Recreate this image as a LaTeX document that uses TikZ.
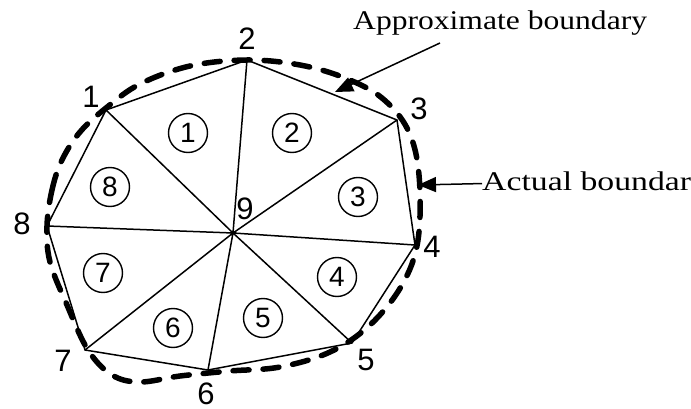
\documentclass[tikz,border=0pt]{standalone}
\usepackage{fontspec}
\setmainfont{Liberation Serif}
\setsansfont{Liberation Sans}
\newfontfamily\bndfont[FakeStretch=1.17]{Liberation Serif}
\newfontfamily\actfont[FakeStretch=1.25]{Liberation Serif}
\usetikzlibrary{arrows.meta}

\begin{document}
\begin{tikzpicture}[x=1pt,y=-1pt,
  num/.style={font=\sffamily\fontsize{31}{31}\selectfont,inner sep=0pt},
  elem/.style={draw,circle,line width=1.4pt,minimum size=39pt,inner sep=0pt,
               font=\sffamily\fontsize{28}{28}\selectfont},
  edge/.style={line width=1.5pt},
  bnd/.style={line width=5.5pt,dash pattern=on 16pt off 14pt,line cap=round},
  lbl/.style={font=\bndfont\fontsize{27}{27}\selectfont,inner sep=0pt},
  arr/.style={-{Triangle[length=18pt,width=15pt]},line width=1.5pt}
]
  \useasboundingbox (0,0) rectangle (691,409);

  % Mesh points: 1-8 on the boundary, 9 in the middle
  \coordinate (p1) at (106,110);
  \coordinate (p2) at (247,60);
  \coordinate (p3) at (397,120);
  \coordinate (p4) at (415,245);
  \coordinate (p5) at (352,343);
  \coordinate (p6) at (208,370);
  \coordinate (p7) at (85,350);
  \coordinate (p8) at (47,226);
  \coordinate (p9) at (233,233);

  % Approximate boundary (polygon) and the triangle fan
  \draw[edge] (p1) -- (p2) -- (p3) -- (p4) -- (p5) -- (p6) -- (p7) -- (p8) -- cycle;
  \draw[edge] (p9) -- (p1) (p9) -- (p2) (p9) -- (p3) (p9) -- (p4)
              (p9) -- (p5) (p9) -- (p6) (p9) -- (p7) (p9) -- (p8);

  % Actual boundary (dashed curve)
  \draw[bnd] plot[smooth cycle,tension=0.6] coordinates {
    (47,226) (52,190) (62,160) (80,132) (106,108) (140,84) (190,66) (247,60)
    (300,65) (345,78) (382,98) (408,130) (419,175) (418,240) (402,285) (370,325)
    (330,352) (280,367) (230,371) (180,376) (140,382) (112,375) (88,350)
    (67,305) (50,262)};

  % Point numbers
  \node[num] (n1) at (91,97)   {1};
  \node[num] (n2) at (247,39)  {2};
  \node[num] (n3) at (419,109) {3};
  \node[num] (n4) at (432,247) {4};
  \node[num] (n5) at (366,360) {5};
  \node[num] (n6) at (206,394) {6};
  \node[num] (n7) at (63,361)  {7};
  \node[num] (n8) at (22,224)  {8};
  \node[num] (n9) at (245,209) {9};

  % Element numbers
  \node[elem] (e1) at (188,133) {1};
  \node[elem] (e2) at (292,133) {2};
  \node[elem] (e3) at (358,197) {3};
  \node[elem] (e4) at (337,277) {4};
  \node[elem] (e5) at (263,318) {5};
  \node[elem] (e6) at (173,328) {6};
  \node[elem] (e7) at (103,273) {7};
  \node[elem] (e8) at (110,187) {8};

  % Labels with their arrows
  \node[lbl,anchor=base west] (approx) at (353,30) {Approximate boundary};
  \node[lbl,font=\actfont\fontsize{27}{27}\selectfont,anchor=base west] (actual) at (482,190) {Actual boundary};
  \coordinate (apxtail) at (440,43);
  \coordinate (apxtip)  at (335,92);
  \coordinate (acttip)  at (418,185);
  \draw[arr] (apxtail) -- (apxtip);
  \draw[arr] (actual.west) -- (acttip);
\end{tikzpicture}
\end{document}
